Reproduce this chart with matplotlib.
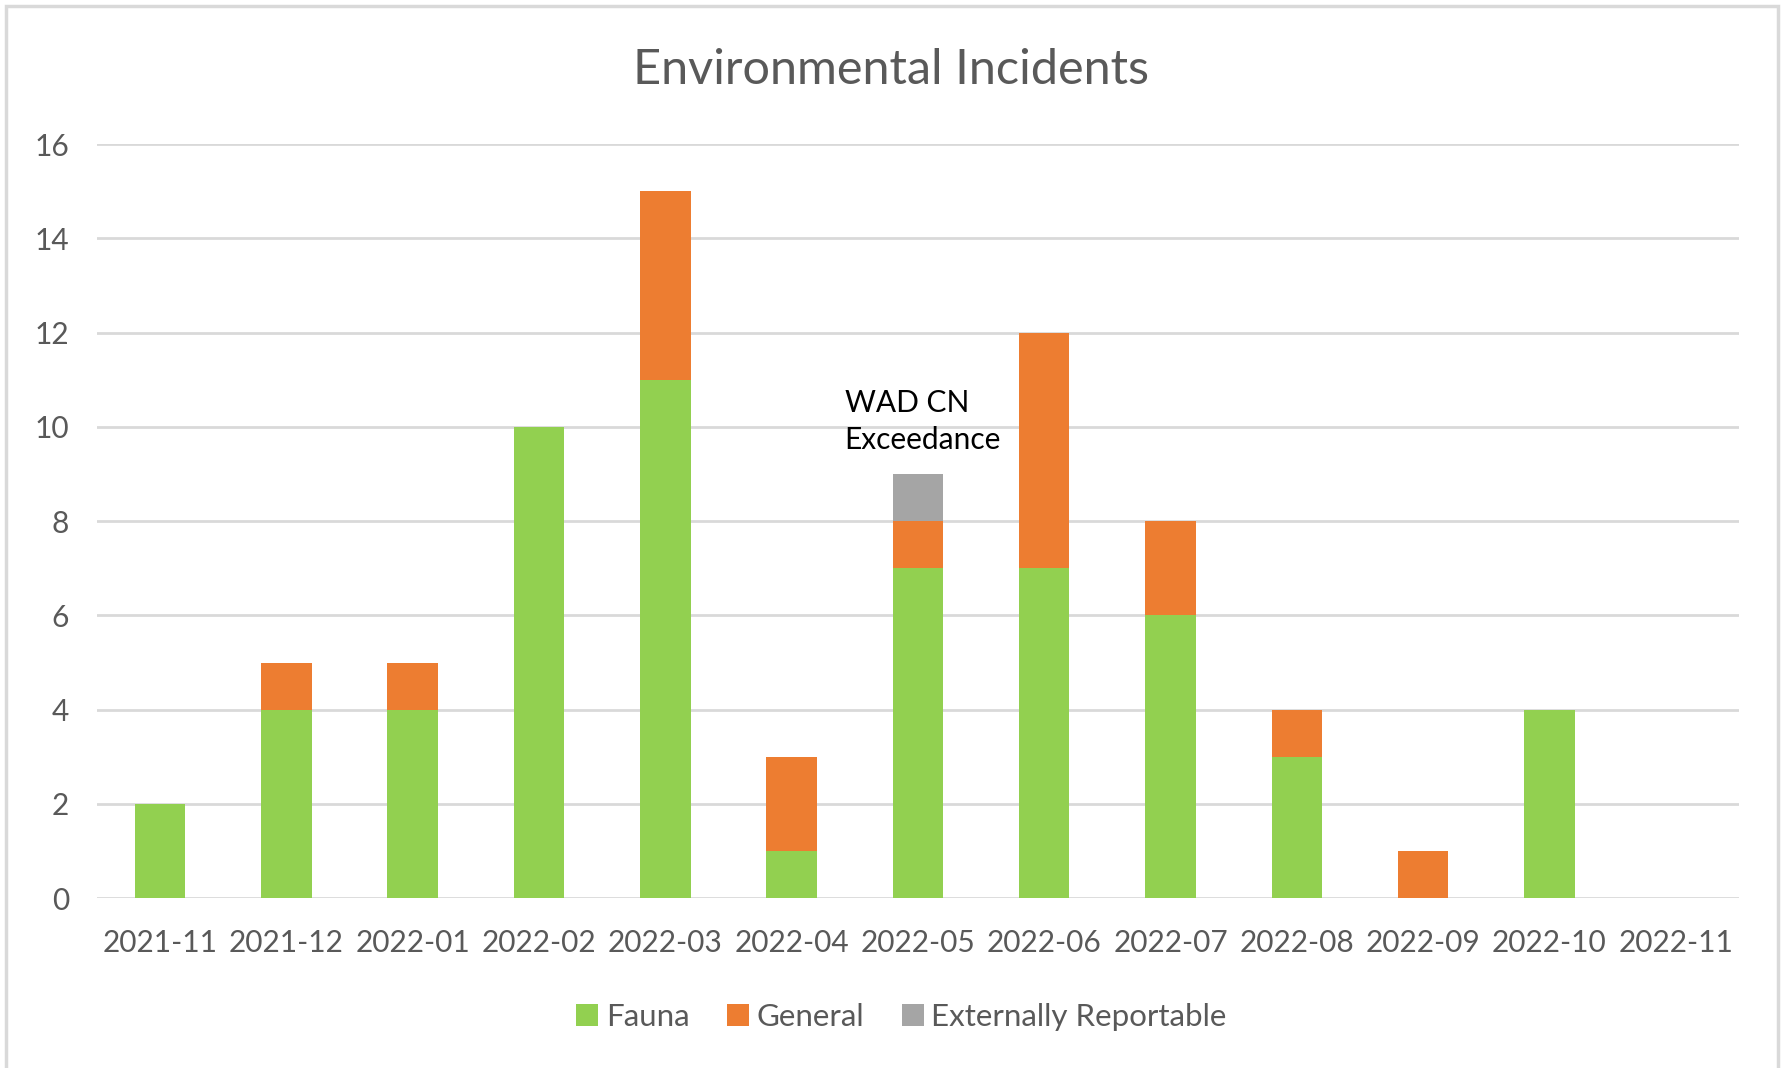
import matplotlib
matplotlib.use('Agg')

import matplotlib.pyplot as plt
from matplotlib.patches import Rectangle
import numpy as np

# === Data ===
months = ["2021-11", "2021-12", "2022-01", "2022-02", "2022-03", "2022-04", "2022-05",
          "2022-06", "2022-07", "2022-08", "2022-09", "2022-10", "2022-11"]
fauna = [2, 4, 4, 10, 11, 1, 7, 7, 6, 3, 0, 4, 0]
general = [0, 1, 1, 0, 4, 2, 1, 5, 2, 1, 1, 0, 0]
external = [0, 0, 0, 0, 0, 0, 1, 0, 0, 0, 0, 0, 0]

plt.rcParams['font.family'] = ['Lato', 'DejaVu Sans']
text_col = '#595959'

fig = plt.figure(figsize=(17.82, 10.68), dpi=100)
ax = fig.add_axes([0.0544, 0.159, 0.9214, 0.706])

x = np.arange(len(months))
w = 0.40
fauna = np.array(fauna)
general = np.array(general)
external = np.array(external)

ax.bar(x, fauna, w, color='#92D050', label='Fauna', zorder=3)
ax.bar(x, general, w, bottom=fauna, color='#ED7D31', label='General', zorder=3)
ax.bar(x, external, w, bottom=fauna + general, color='#A5A5A5',
       label='Externally Reportable', zorder=3)

ax.text(5.42, 10.8, "WAD CN\nExceedance", fontsize=21.5, color='black',
        va='top', ha='left', linespacing=1.37)

# === Axes style ===
ax.set_xlim(-0.5, len(months) - 0.5)
ax.set_ylim(0, 16)
ax.set_yticks(range(0, 17, 2))
ax.set_xticks(x)
ax.set_xticklabels(months)
ax.grid(axis='y', color='#D9D9D9', linewidth=2, zorder=0)
for s in ax.spines.values():
    s.set_visible(False)
ax.tick_params(length=0, colors=text_col, labelsize=21.5)
ax.tick_params(axis='x', pad=22)
ax.tick_params(axis='y', pad=20)

fig.text(0.5, 0.934, "Environmental Incidents", ha='center', va='center',
         fontsize=35, color=text_col)

leg = ax.legend(loc='center', bbox_to_anchor=(0.490, -0.158), ncol=3, frameon=False,
                fontsize=22.5, handlelength=0.7, handleheight=0.7, handletextpad=0.25,
                columnspacing=1.2)
for t in leg.get_texts():
    t.set_color(text_col)

# outer chart frame
fig.patches.append(Rectangle((0.0034, -0.01), 0.9944, 1.0042, transform=fig.transFigure,
                             fill=False, edgecolor='#D9D9D9', linewidth=2.5))

fig.savefig('out.png', dpi=100, facecolor='white')
